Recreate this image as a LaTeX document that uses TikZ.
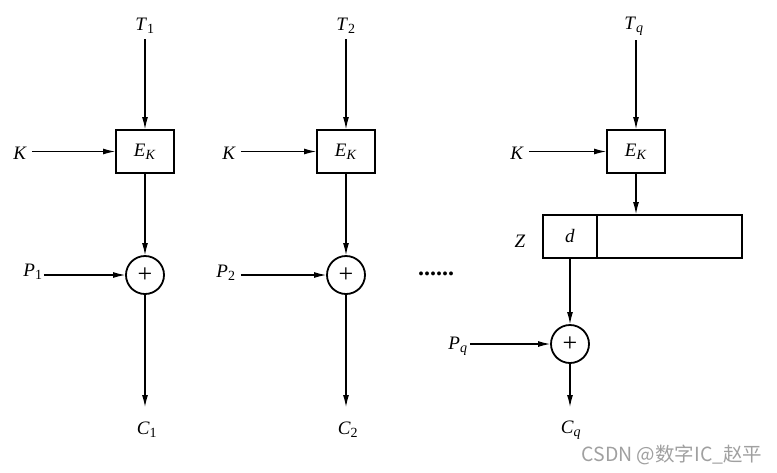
\documentclass[tikz,border=0pt]{standalone}
\usepackage{fontspec}
\setmainfont{Liberation Serif}
\newfontfamily\cjkfont{Noto Sans CJK SC}
\usetikzlibrary{arrows.meta}
\definecolor{markgray}{RGB}{160,160,160}
\DeclareMathSizes{19}{19}{14}{11}
\newcommand{\sym}[2]{\textit{#1}\textsubscript{#2}}

\begin{document}
\begin{tikzpicture}[x=1pt, y=-1pt,
  every node/.style={font=\fontsize{19}{22}\selectfont},
  encbox/.style={draw, line width=1.8pt, minimum width=58pt, minimum height=43pt, inner sep=0pt},
  xorbox/.style={draw, circle, line width=1.8pt, minimum size=38pt, inner sep=0pt, font=\fontsize{26}{26}\selectfont},
  cellbox/.style={draw, line width=1.8pt, minimum height=43pt, inner sep=0pt},
  io/.style={inner sep=5pt},
  arrow/.style={-{Latex[length=12pt,width=6pt]}, line width=1.1pt}
]
  \useasboundingbox (0,0) rectangle (777,472);

  % Column 1
  \node[io] (t1) at (145,26) {\sym{T}{1}};
  \node[encbox] (ek1) at (145,151.5) {\sym{E}{\textit{K}}};
  \node[io] (k1) at (20,153) {\textit{K}};
  \node[xorbox] (x1) at (145,275) {+};
  \node[inner sep=1pt] (p1) at (33,272) {\sym{P}{1}};
  \node[io] (c1) at (147,430) {\sym{C}{1}};

  \draw[arrow] (t1) -- (ek1);
  \draw[arrow] (k1.east |- ek1) -- (ek1);
  \draw[arrow] (ek1) -- (x1);
  \draw[arrow] (p1.east |- x1) -- (x1);
  \draw[arrow] (x1) -- ([yshift=23pt]c1.center -| x1);

  % Column 2
  \node[io] (t2) at (346,26) {\sym{T}{2}};
  \node[encbox] (ek2) at (346,151.5) {\sym{E}{\textit{K}}};
  \node[io] (k2) at (229,153) {\textit{K}};
  \node[xorbox] (x2) at (346,275) {+};
  \node[io] (p2) at (226,273) {\sym{P}{2}};
  \node[io] (c2) at (348,430) {\sym{C}{2}};

  \draw[arrow] (t2) -- (ek2);
  \draw[arrow] (k2.east |- ek2) -- (ek2);
  \draw[arrow] (ek2) -- (x2);
  \draw[arrow] (p2.east |- x2) -- (x2);
  \draw[arrow] (x2) -- ([yshift=23pt]c2.center -| x2);

  % Dots between the columns
  \node[font=\fontsize{24}{26}\selectfont\bfseries] (dots) at (436,274) {......};

  % Column q with the register Z
  \node[io] (tq) at (634,26) {\sym{T}{\textit{q}}};
  \node[encbox] (ekq) at (636,151.5) {\sym{E}{\textit{K}}};
  \node[io] (kq) at (517,153) {\textit{K}};
  \node[cellbox, minimum width=54pt] (zd) at (570,236.5) {\textit{d}};
  \node[cellbox, minimum width=145pt] (zrest) at (669.5,236.5) {};
  \node (zlab) at (520,241) {\textit{Z}};
  \node[xorbox] (xq) at (570,344) {+};
  \node[inner sep=2pt] (pq) at (458,346) {\sym{P}{\textit{q}}};
  \node[io] (cq) at (571,430) {\sym{C}{\textit{q}}};

  \draw[arrow] (tq.south -| ekq) -- (ekq);
  \draw[arrow] (kq.east |- ekq) -- (ekq);
  \draw[arrow] (ekq) -- (ekq |- zrest.north);
  \draw[arrow] (zd) -- (xq);
  \draw[arrow] (pq.east |- xq) -- (xq);
  \draw[arrow] (xq) -- ([yshift=23pt]cq.center -| xq);

  % Watermark
  \node[text=markgray, font=\fontsize{19.5}{22}\selectfont] (mark) at (672,455) {\cjkfont CSDN @数字IC\_赵平};
\end{tikzpicture}
\end{document}
